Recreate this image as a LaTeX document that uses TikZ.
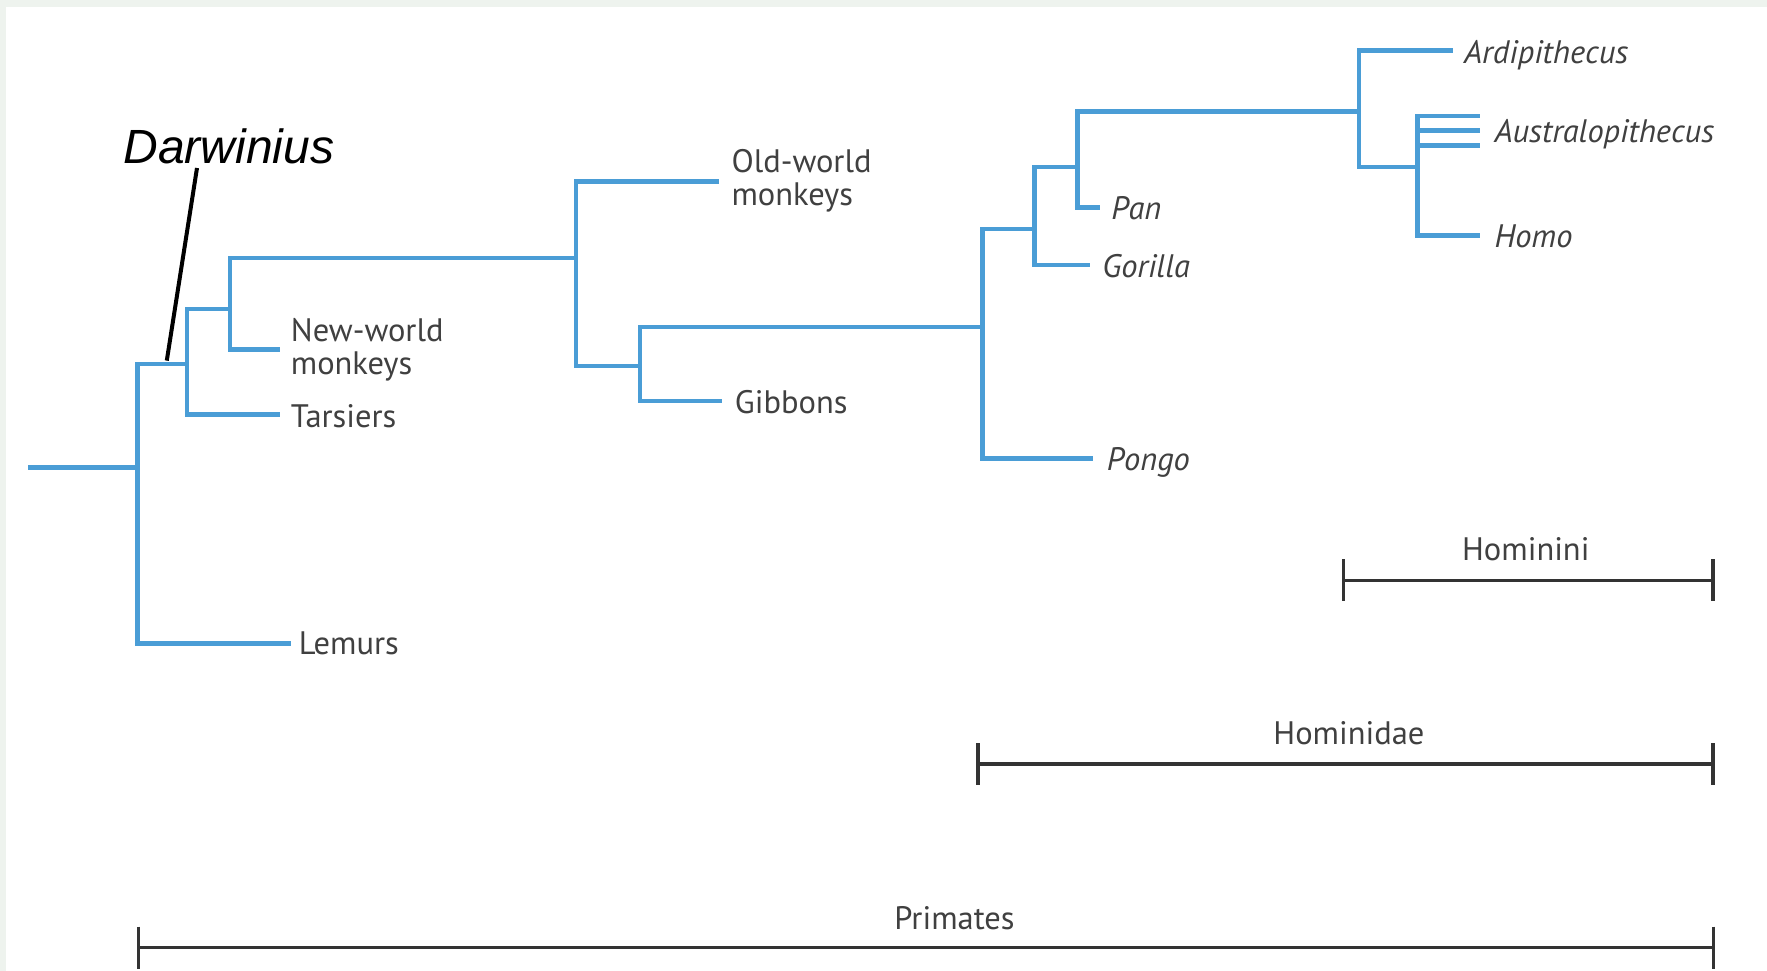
\documentclass[tikz,border=0pt]{standalone}
\usepackage{fontspec}
\newfontfamily\labfont{PT Sans}
\newfontfamily\darwfont{Liberation Sans}
\definecolor{branchblue}{RGB}{74,157,214}
\definecolor{labgray}{RGB}{64,64,64}
\definecolor{bargray}{RGB}{51,51,51}
\definecolor{bandcol}{RGB}{238,243,238}
\tikzset{
  br/.style={draw=branchblue, line width=4.5pt, line join=miter},
  lab/.style={anchor=west, inner sep=0pt, text=labgray, font=\labfont\fontsize{32.5}{33}\selectfont, align=left},
  ilab/.style={lab, font=\labfont\itshape\fontsize{32.5}{33}\selectfont},
  barlab/.style={inner sep=0pt, text=labgray, font=\labfont\fontsize{32.5}{33}\selectfont},
  scalebar/.style={draw=bargray, line width=3.5pt},
  darwlab/.style={inner sep=0pt, font=\darwfont\itshape\fontsize{48}{50}\selectfont},
  pointer/.style={draw=black, line width=4pt}
}
\begin{document}
\begin{tikzpicture}[x=1pt,y=-1pt]
\useasboundingbox (0,0) rectangle (1767,971);
\fill[bandcol] (0,0) rectangle (1767,971);
\fill[white] (6,7) rectangle (1767,971);

% internal nodes (vertical x, stem y)
\coordinate (root) at (28,467.7);
\coordinate (n1) at (137.5,467.7);
\coordinate (n2) at (187.1,364.0);
\coordinate (n3) at (229.9,308.8);
\coordinate (n4) at (575.9,258.1);
\coordinate (n5) at (640.1,366.2);
\coordinate (n6) at (982.7,326.8);
\coordinate (n7) at (1034.5,228.8);
\coordinate (n8) at (1077.3,166.8);
\coordinate (n9) at (1359.1,111.6);
\coordinate (n10) at (1417.7,166.8);

% tip ends
\coordinate (eLem) at (290.7,643.5);
\coordinate (eTar) at (279.5,414.7);
\coordinate (eNWM) at (279.5,349.3);
\coordinate (eOWM) at (719.0,181.4);
\coordinate (eGib) at (722.4,401.2);
\coordinate (ePon) at (1093.1,458.7);
\coordinate (eGor) at (1089.7,264.8);
\coordinate (ePan) at (1099.9,207.4);
\coordinate (eArd) at (1452.6,50.7);
\coordinate (eAuA) at (1479.6,116.1);
\coordinate (eAuB) at (1479.6,130.7);
\coordinate (eAuC) at (1479.6,145.4);
\coordinate (sAuB) at (1417.7,130.7);
\coordinate (sAuC) at (1417.7,145.4);
\coordinate (eHom) at (1479.6,235.5);

% labels
\node[lab] (lLem) at (298.6,643.5) {Lemurs};
\node[lab] (lTar) at (290.7,416.5) {Tarsiers};
\node[lab] (lNWM) at (290.7,350) {New-world\\monkeys};
\node[lab] (lOWM) at (731.4,181) {Old-world\\monkeys};
\node[lab] (lGib) at (734.7,402) {Gibbons};
\node[ilab] (lPon) at (1106.6,462) {Pongo};
\node[ilab] (lGor) at (1102.1,266.5) {Gorilla};
\node[ilab] (lPan) at (1111.1,208.5) {Pan};
\node[ilab] (lArd) at (1463.9,55) {Ardipithecus};
\node[ilab] (lAus) at (1494.3,134.5) {Australopithecus};
\node[ilab] (lHom) at (1494.3,236.5) {Homo};

% branches
\draw[br] (root) -- (n1);
\draw[br] (n2) -| (n1) |- (eLem);
\draw[br] (n3) -| (n2) |- (eTar);
\draw[br] (n4) -| (n3) |- (eNWM);
\draw[br] (eOWM) -| (n4) |- (n5);
\draw[br] (n6) -| (n5) |- (eGib);
\draw[br] (n7) -| (n6) |- (ePon);
\draw[br] (n8) -| (n7) |- (eGor);
\draw[br] (n9) -| (n8) |- (ePan);
\draw[br] (eArd) -| (n9) |- (n10);
\draw[br] (eAuA) -| (n10) |- (eHom);
\draw[br] (sAuB) -- (eAuB);
\draw[br] (sAuC) -- (eAuC);

% Darwinius
\node[darwlab] (darw) at (229,146) {Darwinius};
\coordinate (dTop) at (197,168);
\coordinate (dBot) at (166.8,360.6);
\draw[pointer] (dTop) -- (dBot);

% scale bars
\coordinate (hiL) at (1343.3,580.4);
\coordinate (hiR) at (1712.9,580.4);
\coordinate (hdL) at (978.2,764.0);
\coordinate (hdR) at (1712.9,764.0);
\coordinate (prL) at (138.6,947.7);
\coordinate (prR) at (1713.5,947.7);
\foreach \a/\b in {hiL/hiR,hdL/hdR,prL/prR}{
  \draw[scalebar] (\a) -- (\b);
  \draw[scalebar] ([yshift=21pt]\a) -- ([yshift=-21pt]\a);
  \draw[scalebar] ([yshift=21pt]\b) -- ([yshift=-21pt]\b);
}
\node[barlab] (lHi) at (1525.8,549.5) {Hominini};
\node[barlab] (lHd) at (1348.9,733.5) {Hominidae};
\node[barlab] (lPr) at (954.5,918) {Primates};
\end{tikzpicture}
\end{document}
